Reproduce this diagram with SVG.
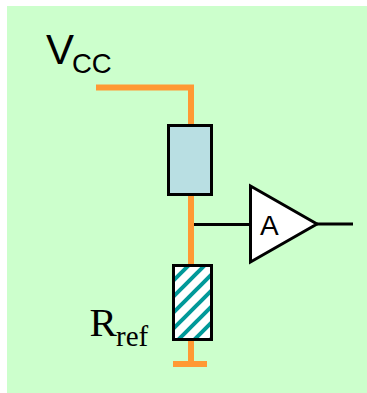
<svg xmlns="http://www.w3.org/2000/svg" width="367" height="393" viewBox="0 0 367 393">
<style>
.w{stroke:#ff9933;stroke-width:6;fill:none}
.b{stroke:#000;stroke-width:3;stroke-linejoin:miter}
.k{stroke:#000;stroke-width:3;fill:none}
.s{font-family:"Liberation Sans",Arial,sans-serif;fill:#000}
.t{font-family:"Liberation Serif","Times New Roman",serif;fill:#000}
</style>
<defs>
<pattern id="hatch" patternUnits="userSpaceOnUse" width="16" height="16" patternTransform="translate(6 0)">
<rect width="16" height="16" fill="#fff"/>
<path d="M-4 4L4-4M-4 20L20-4M12 20L20 12" stroke="#009999" stroke-width="4" fill="none"/>
</pattern>
</defs>
<rect x="7" y="6" width="360" height="387" fill="#ccffcc"/>
<g id="connectors">
<path class="w" d="M96 87.500H191V125"/>
<path class="w" d="M191 194V265M191 340V364M173 364H207"/>
<path class="k" d="M194 224.500H250M317 224H353"/>
</g>
<g id="vcc"><text class="s" x="46" y="63.500" font-size="42">V</text><text class="s" x="72" y="72.500" font-size="27.500">CC</text></g>
<g id="resistor"><rect class="b" x="168.500" y="125.500" width="43" height="69" fill="#b9dfe3"/></g>
<g id="rref"><rect class="b" x="173.500" y="265.500" width="38" height="74" fill="url(#hatch)"/>
<text class="t" x="89.500" y="336" font-size="41">R</text><text class="t" x="116" y="346" font-size="29">ref</text></g>
<g id="amp"><path class="b" d="M250.500 186L317 224L250.500 262Z" fill="#fff"/><text class="s" x="260" y="235" font-size="28">A</text></g>
</svg>
